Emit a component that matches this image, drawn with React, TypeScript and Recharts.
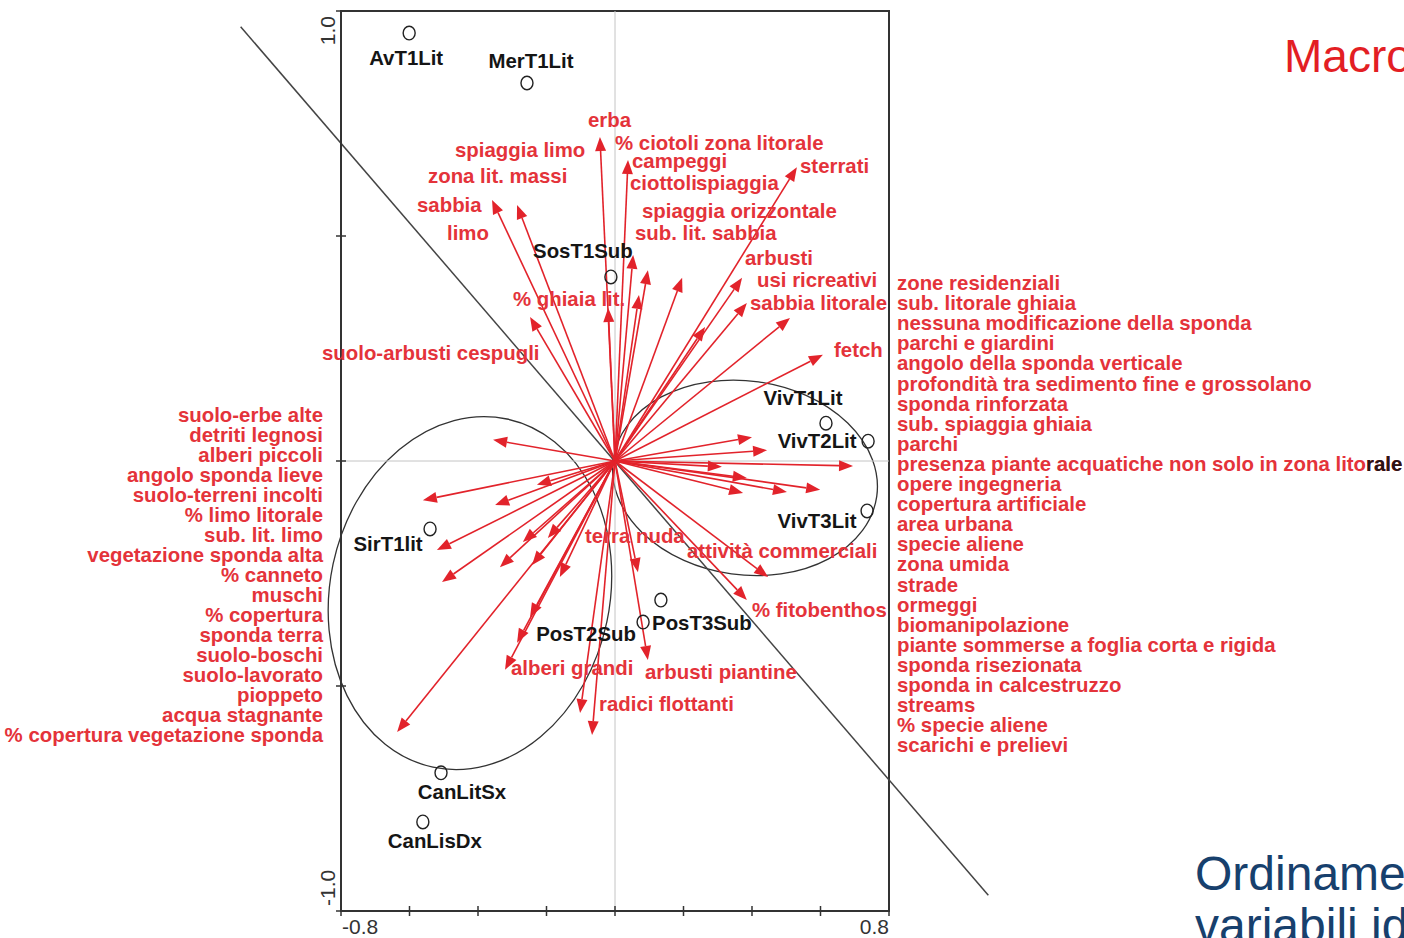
import React from "react";
import { ReferenceArea, ReferenceLine, Scatter, ScatterChart, XAxis, YAxis } from "recharts";

// site scores (axis 1, axis 2)
const siteNames = ["AvT1Lit", "MerT1Lit", "SosT1Sub", "VivT1Lit", "VivT2Lit", "VivT3Lit", "SirT1lit", "PosT2Sub", "PosT3Sub", "CanLitSx", "CanLisDx"];
const siteX = [-0.601, -0.257, -0.012, 0.616, 0.739, 0.736, -0.54, 0.082, 0.134, -0.508, -0.561];
const siteY = [0.951, 0.84, 0.409, 0.084, 0.044, -0.111, -0.151, -0.358, -0.309, -0.693, -0.802];

// environmental variable arrow tips
const arrowX = [
  -0.044, 0.038, 0.531, -0.359, -0.286, 0.053, 0.096, 0.07, 0.196, 0.263, 0.371, 0.385, 0.511, 0.607, -0.248, -0.02,
  -0.356, -0.228, -0.561, -0.35, -0.52, -0.269, -0.336, -0.505, -0.242, -0.196, -0.161, -0.248, -0.286, -0.321, -0.636, -0.102, -0.067,
  0.4, 0.444, 0.695, 0.312, 0.385, 0.502, 0.599, 0.374, 0.447, 0.385, 0.096, 0.067,
];
const arrowY = [
  0.72, 0.669, 0.653, 0.58, 0.569, 0.458, 0.424, 0.369, 0.407, 0.298, 0.407, 0.351, 0.318, 0.236, 0.32, 0.34,
  0.047, -0.053, -0.087, -0.098, -0.198, -0.18, -0.236, -0.269, -0.231, -0.171, -0.258, -0.347, -0.404, -0.464, -0.602, -0.56, -0.609,
  0.053, 0.024, -0.011, -0.013, -0.038, -0.069, -0.064, -0.071, -0.258, -0.309, -0.442, -0.247,
];

// site groups drawn as ellipses (bounding box in axis units)
const groupX1 = [-0.832, -0.009];
const groupX2 = [-0.015, 0.768];
const groupY1 = [-0.689, -0.253];
const groupY2 = [0.102, 0.178];
const groupTilt = [12, 8];

// separating line
const splitLine = [
  { x: -1.093, y: 0.965 },
  { x: 1.09, y: -0.965 },
];

const xTicks = [-0.8, -0.6, -0.4, -0.2, 0, 0.2, 0.4, 0.6, 0.8];
const yTicks = [-1, -0.5, 0, 0.5, 1];

// variables listed beside the plot
const leftVars = [
  "suolo-erbe alte", "detriti legnosi", "alberi piccoli", "angolo sponda lieve", "suolo-terreni incolti",
  "% limo litorale", "sub. lit. limo", "vegetazione sponda alta", "% canneto", "muschi", "% copertura",
  "sponda terra", "suolo-boschi", "suolo-lavorato", "pioppeto", "acqua stagnante", "% copertura vegetazione sponda",
];
const rightVars = [
  "zone residenziali", "sub. litorale ghiaia", "nessuna modificazione della sponda", "parchi e giardini",
  "angolo della sponda verticale", "profondità tra sedimento fine e grossolano", "sponda rinforzata",
  "sub. spiaggia ghiaia", "parchi", "presenza piante acquatiche non solo in zona litorale", "opere ingegneria",
  "copertura artificiale", "area urbana", "specie aliene", "zona umida", "strade", "ormeggi", "biomanipolazione",
  "piante sommerse a foglia corta e rigida", "sponda risezionata", "sponda in calcestruzzo", "streams",
  "% specie aliene", "scarichi e prelievi",
];

// labels written next to the arrows: [text, left, baseline]
const arrowLabels: [string, number, number][] = [
  ["erba", 588, 127],
  ["% ciotoli zona litorale", 615, 150],
  ["campeggi", 632, 168],
  ["ciottoli", 630, 190],
  ["spiaggia", 696, 190],
  ["sterrati", 800, 173],
  ["spiaggia limo", 455, 157],
  ["zona lit. massi", 428, 183],
  ["sabbia", 417, 212],
  ["limo", 447, 240],
  ["spiaggia orizzontale", 642, 218],
  ["sub. lit. sabbia", 635, 240],
  ["arbusti", 745, 265],
  ["usi ricreativi", 757, 287],
  ["sabbia litorale", 750, 310],
  ["fetch", 834, 357],
  ["% ghiaia lit.", 513, 306],
  ["suolo-arbusti cespugli", 322, 360],
  ["terra nuda", 585, 543],
  ["attività commerciali", 687, 558],
  ["% fitobenthos", 752, 617],
  ["alberi grandi", 511, 675],
  ["arbusti piantine", 645, 679],
  ["radici flottanti", 599, 711],
];

// where each site name sits relative to its circle
const siteLabelOffset: Record<string, [number, number]> = {
  AvT1Lit: [-3, 32],
  MerT1Lit: [4, -15],
  SosT1Sub: [-28, -19],
  VivT1Lit: [-23, -18],
  VivT2Lit: [-51, 7],
  VivT3Lit: [-50, 17],
  SirT1lit: [-42, 22],
  PosT2Sub: [-57, 19],
  PosT3Sub: [41, 30],
  CanLitSx: [21, 26],
  CanLisDx: [12, 26],
};

const FONT = "'Liberation Sans', Arial, sans-serif";
const RED = "#e4333a";
const ARROW = "#e2232b";

const sites = siteNames.map((name, i) => ({ name, x: siteX[i], y: siteY[i] }));
const arrows = arrowX.map((x, i) => ({ x, y: arrowY[i] }));
const groups = groupX1.map((x1, i) => ({ x1, x2: groupX2[i], y1: groupY1[i], y2: groupY2[i], tilt: groupTilt[i] }));

function ArrowShape(p: any) {
  const { x1, y1, x2, y2 } = p;
  const a = Math.atan2(y2 - y1, x2 - x1);
  const len = 14;
  const w = 5.5;
  const bx = x2 - len * Math.cos(a);
  const by = y2 - len * Math.sin(a);
  const pts = `${x2},${y2} ${bx + w * Math.sin(a)},${by - w * Math.cos(a)} ${bx - w * Math.sin(a)},${by + w * Math.cos(a)}`;
  return (
    <g>
      <line x1={x1} y1={y1} x2={bx} y2={by} stroke={ARROW} strokeWidth={1.6} />
      <polygon points={pts} fill={ARROW} />
    </g>
  );
}

function makeEllipse(tilt: number) {
  return (p: any) => {
    const cx = p.x + p.width / 2;
    const cy = p.y + p.height / 2;
    return (
      <ellipse
        cx={cx}
        cy={cy}
        rx={Math.abs(p.width) / 2}
        ry={Math.abs(p.height) / 2}
        transform={`rotate(${tilt} ${cx} ${cy})`}
        fill="none"
        stroke="#333"
        strokeWidth={1.3}
      />
    );
  };
}

function SiteMark(p: any) {
  const { cx, cy, payload } = p;
  const [dx, dy] = siteLabelOffset[payload.name] || [0, 20];
  return (
    <g>
      <ellipse cx={cx} cy={cy} rx={6} ry={6.8} fill="none" stroke="#222" strokeWidth={1.4} />
      <text x={cx + dx} y={cy + dy} textAnchor="middle" fontFamily={FONT} fontWeight="bold" fontSize={20.4} fill="#151515">
        {payload.name}
      </text>
    </g>
  );
}

function XTick(p: any) {
  const { x, y, payload } = p;
  const v = payload.value;
  return (
    <g>
      <line x1={x} x2={x} y1={y - 5} y2={y + 5} stroke="#333" strokeWidth={1.5} />
      {Math.abs(v) > 0.79 && (
        <text x={v < 0 ? x + 1 : x} y={y + 23} textAnchor={v < 0 ? "start" : "end"} fontFamily={FONT} fontSize={21} fill="#333">
          {v.toFixed(1)}
        </text>
      )}
    </g>
  );
}

function YTick(p: any) {
  const { x, y, payload } = p;
  const v = payload.value;
  const ty = v > 0 ? y + 5 : y - 5;
  return (
    <g>
      <line x1={x - 5} x2={x + 5} y1={y} y2={y} stroke="#333" strokeWidth={1.5} />
      {Math.abs(v) > 0.99 && (
        <text
          x={x - 6}
          y={ty}
          transform={`rotate(-90 ${x - 6} ${ty})`}
          textAnchor={v > 0 ? "end" : "start"}
          fontFamily={FONT}
          fontSize={21}
          fill="#333"
        >
          {v.toFixed(1)}
        </text>
      )}
    </g>
  );
}

export default function App() {
  return (
    <div style={{ position: "absolute", left: 0, top: 0, width: 1404, height: 938, overflow: "hidden", background: "#fff" }}>
      <ScatterChart width={1404} height={938} margin={{ top: 11, right: 515, bottom: 0, left: 281 }}>
        <XAxis
          type="number"
          dataKey="x"
          domain={[-0.8, 0.8]}
          ticks={xTicks}
          interval={0}
          height={27}
          tickSize={0}
          tickMargin={0}
          tickLine={false}
          tick={(p: any) => <XTick {...p} />}
          axisLine={{ stroke: "#333", strokeWidth: 2 }}
        />
        <YAxis
          type="number"
          dataKey="y"
          domain={[-1, 1]}
          ticks={yTicks}
          interval={0}
          width={60}
          tickSize={0}
          tickMargin={0}
          tickLine={false}
          tick={(p: any) => <YTick {...p} />}
          axisLine={{ stroke: "#333", strokeWidth: 2 }}
        />
        <ReferenceArea x1={-0.8} x2={0.8} y1={-1} y2={1} fill="none" stroke="#333" strokeWidth={2} ifOverflow="visible" />
        <ReferenceLine x={0} stroke="#c4c4c4" strokeWidth={1} />
        <ReferenceLine y={0} stroke="#c4c4c4" strokeWidth={1} />
        {groups.map((g, i) => (
          <ReferenceArea key={`g${i}`} x1={g.x1} x2={g.x2} y1={g.y1} y2={g.y2} ifOverflow="visible" shape={makeEllipse(g.tilt)} />
        ))}
        <ReferenceLine segment={splitLine} stroke="#444" strokeWidth={1.5} ifOverflow="visible" />
        {arrows.map((a, i) => (
          <ReferenceLine
            key={`a${i}`}
            segment={[{ x: 0, y: 0 }, { x: a.x, y: a.y }]}
            ifOverflow="visible"
            shape={(p: any) => <ArrowShape {...p} />}
          />
        ))}
        <Scatter data={sites} shape={(p: any) => <SiteMark {...p} />} isAnimationActive={false} />
      </ScatterChart>
      <svg width={1404} height={938} style={{ position: "absolute", left: 0, top: 0, pointerEvents: "none" }}>
        <g fontFamily={FONT} fontWeight="bold" fontSize={20.4} fill={RED}>
          {arrowLabels.map(([t, x, y]) => (
            <text key={t} x={x} y={y}>
              {t}
            </text>
          ))}
          {leftVars.map((t, i) => (
            <text key={t} x={323} y={422 + i * 20} textAnchor="end">
              {t}
            </text>
          ))}
          {rightVars.map((t, i) => (
            <text key={t} x={897} y={290 + i * 20.1}>
              {t}
            </text>
          ))}
          <text x={1366} y={471} fill="#2a1515">
            rale
          </text>
        </g>
        <text x={1284} y={72} fontFamily={FONT} fontSize={46} fill="#e31e24">
          Macro
        </text>
        <text x={1195} y={890} fontFamily={FONT} fontSize={48} fill="#17406d">
          Ordiname
        </text>
        <text x={1195} y={942} fontFamily={FONT} fontSize={48} fill="#17406d">
          variabili id
        </text>
      </svg>
    </div>
  );
}
